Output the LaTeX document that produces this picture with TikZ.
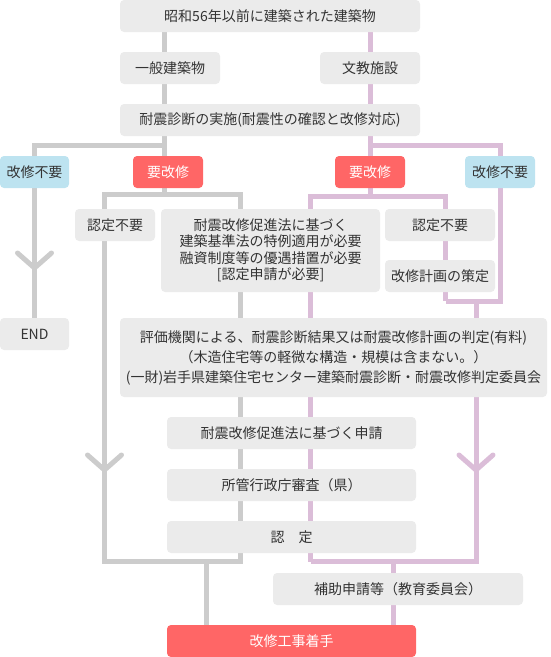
\documentclass[tikz,border=0pt]{standalone}
\usepackage{fontspec}
\setmainfont{Noto Sans CJK JP}
\usetikzlibrary{backgrounds}
\definecolor{BoxGray}{HTML}{EBEBEB}
\definecolor{BoxRed}{HTML}{FF6666}
\definecolor{BoxBlue}{HTML}{BDE3F0}
\definecolor{LineGray}{HTML}{CCCCCC}
\definecolor{LinePink}{HTML}{DBBDD8}
\definecolor{TextGray}{HTML}{333333}

\begin{document}
\begin{tikzpicture}[
    x=1pt,y=-1pt,
    Box/.style={fill=BoxGray,rounded corners=4pt,inner sep=0pt,text=TextGray,align=center,
      font=\fontsize{14}{16.5}\selectfont,minimum height=32pt},
    RedBox/.style={Box,fill=BoxRed,text=white},
    BlueBox/.style={Box,fill=BoxBlue},
    GrayLine/.style={line width=5pt,draw=LineGray},
    PinkLine/.style={line width=5pt,draw=LinePink},
    Chevron/.style={line cap=round,line join=round},
    ]

    \useasboundingbox (0,0) rectangle (550,657);

    \node[Box,minimum width=300pt] (built) at (270,16) {昭和56年以前に建築された建築物};
    \node[Box,minimum width=100pt] (general) at (170,68) {一般建築物};
    \node[Box,minimum width=100pt] (school) at (370,68) {文教施設};
    \node[Box,minimum width=300pt] (diag) at (270,120) {耐震診断の実施(耐震性の確認と改修対応)};

    \node[BlueBox,minimum width=69pt] (noneedL) at (34.5,172) {改修不要};
    \node[RedBox,minimum width=70pt]  (needL)   at (168,172)  {要改修};
    \node[RedBox,minimum width=70pt]  (needR)   at (370,172)  {要改修};
    \node[BlueBox,minimum width=70pt] (noneedR) at (500,172)  {改修不要};

    \node[Box,minimum width=80pt] (nocertL) at (115,225) {認定不要};
    \node[Box,minimum width=219pt,minimum height=83pt] (promo) at (270.5,250.5)
      {耐震改修促進法に基づく\\建築基準法の特例適用が必要\\融資制度等の優遇措置が必要\\{[}認定申請が必要{]}};
    \node[Box,minimum width=110pt] (nocertR) at (440,225) {認定不要};
    \node[Box,minimum width=110pt] (plan) at (440,276) {改修計画の策定};

    \node[Box,minimum width=69pt] (end) at (34.5,334) {END};
    \node[Box,minimum width=427pt,minimum height=79pt,font=\fontsize{14}{20}\selectfont] (judge) at (333.5,357.5)
      {評価機関による、耐震診断結果又は耐震改修計画の判定(有料)\\（木造住宅等の軽微な構造・規模は含まない。）\\(一財)岩手県建築住宅センター建築耐震診断・耐震改修判定委員会};

    \node[Box,minimum width=249pt] (apply)   at (291.5,433) {耐震改修促進法に基づく申請};
    \node[Box,minimum width=249pt] (review)  at (291.5,485) {所管行政庁審査（県）};
    \node[Box,minimum width=249pt] (cert)    at (291.5,537) {認　定};
    \node[Box,minimum width=250pt] (subsidy) at (398,589)   {補助申請等（教育委員会）};
    \node[RedBox,minimum width=249pt] (start) at (291.5,641) {改修工事着手};

    \coordinate (gsplit) at (164,145.5);
    \coordinate (psplit) at (370.5,145.5);
    \coordinate (gfork)  at (164,194.5);
    \coordinate (pfork)  at (370.5,196);
    \coordinate (gleft)  at (104.5,561.5);
    \coordinate (gright) at (240,561.5);
    \coordinate (gjoin)  at (206,561.5);
    \coordinate (pleft)  at (310.5,561.5);
    \coordinate (pplan)  at (445.5,301);
    \coordinate (pnone)  at (500,301);
    \coordinate (pmerge) at (476,301);
    \coordinate (pjoin)  at (393,561.5);

    \begin{scope}[on background layer]
      \draw[GrayLine] (built -| gsplit) -- (gsplit) -| (end);
      \draw[GrayLine] (gsplit) -- (gfork);
      \draw[GrayLine] (gleft) |- (gfork) -| (gright) -- cycle;
      \draw[GrayLine] (gjoin) -- (gjoin |- start);
      \draw[PinkLine] (built -| psplit) -- (psplit) -| (pnone) -- (pplan);
      \draw[PinkLine] (psplit) -- (pfork);
      \draw[PinkLine] (pleft) |- (pfork) -| (pplan);
      \draw[PinkLine] (pmerge) |- (pleft);
      \draw[PinkLine] (pjoin) -- (pjoin |- start);
    \end{scope}

    \coordinate (gtipA) at (34.5,268);
    \coordinate (gtipB) at (104.5,470);
    \coordinate (ptip)  at (476,470);
    \draw[GrayLine,Chevron] ([shift={(-17,-15)}]gtipA) -- (gtipA) -- ([shift={(17,-15)}]gtipA);
    \draw[GrayLine,Chevron] ([shift={(-17,-15)}]gtipB) -- (gtipB) -- ([shift={(17,-15)}]gtipB);
    \draw[PinkLine,Chevron] ([shift={(-17,-15)}]ptip) -- (ptip) -- ([shift={(17,-15)}]ptip);
  \end{tikzpicture}
\end{document}
